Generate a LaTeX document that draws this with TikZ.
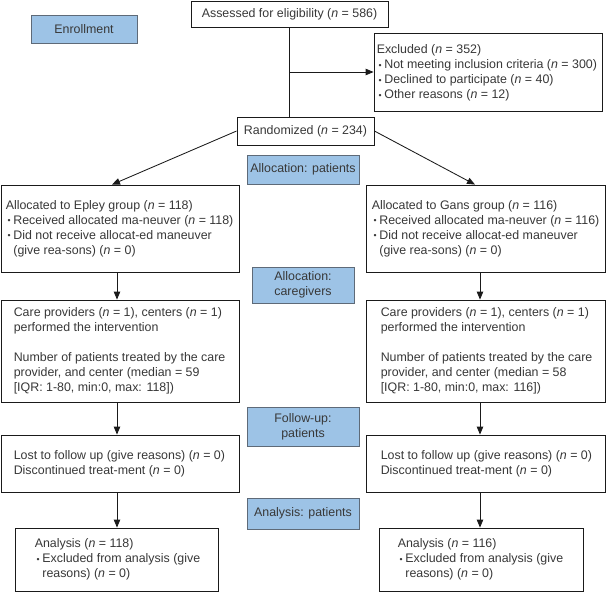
\documentclass[tikz,border=0pt]{standalone}
\usepackage{fontspec}
\setmainfont{Liberation Sans}
\usepackage{graphicx}
\usetikzlibrary{arrows.meta,calc}
\definecolor{stagefill}{HTML}{9DC3E6}
\definecolor{stageline}{HTML}{5E6A78}
\definecolor{txtgray}{HTML}{383838}
\definecolor{boxline}{HTML}{1A1A1A}
\newcommand{\nn}{\textit{n}}
\newcommand{\bl}{\hspace*{1.8pt}\makebox[5.8pt][l]{\raisebox{0.05ex}{\scalebox{0.7}{•}}}}
\newcommand{\ind}{\hspace*{7.6pt}}
\begin{document}
\begin{tikzpicture}[x=1pt,y=-1pt,
  font=\fontsize{12.4}{14.9}\selectfont,
  box/.style={draw=boxline, line width=0.85pt, inner sep=0pt, fill=white},
  stage/.style={draw=stageline, fill=stagefill, line width=0.9pt, inner sep=0pt, align=center, text=txtgray},
  txt/.style={anchor=west, align=left, inner sep=0pt, text=txtgray},
  ctxt/.style={align=center, inner sep=0pt, text=txtgray},
  ln/.style={draw=boxline, line width=0.85pt},
  arr/.style={draw=boxline, line width=0.85pt, -{Triangle[width=6.5pt,length=8pt]}}]
\useasboundingbox (0,0) rectangle (606,592);

% stage labels
\node[stage, minimum width=106pt, minimum height=28pt] (enroll) at (84,29) {Enrollment};
\node[stage, minimum width=112pt, minimum height=29pt] (allocP) at (303,169.5) {Allocation: patients};
\node[stage, minimum width=102pt, minimum height=36pt] (allocC) at (303,285) {Allocation:\\caregivers};
\node[stage, minimum width=112pt, minimum height=39pt] (follow) at (303,426.5) {Follow-up:\\patients};
\node[stage, minimum width=112pt, minimum height=31pt] (anaP) at (303,513.5) {Analysis: patients};

% top boxes
\node[box, minimum width=197pt, minimum height=26pt] (assess) at (289.5,14) {};
\node[ctxt] (assessT) at (assess.center) {Assessed for eligibility (\nn{} = 586)};
\node[box, minimum width=228pt, minimum height=78pt] (excl) at (488,72) {};
\node[txt] (exclT) at ([xshift=3pt,yshift=-1pt]excl.west) {Excluded (\nn{} = 352)\\
\bl Not meeting inclusion criteria (\nn{} = 300)\\
\bl Declined to participate (\nn{} = 40)\\
\bl Other reasons (\nn{} = 12)};
\node[box, minimum width=137pt, minimum height=28pt] (rand) at (305.5,131) {};
\node[ctxt] (randT) at (rand.center) {Randomized (\nn{} = 234)};

% left column
\node[box, minimum width=238pt, minimum height=87pt] (epley) at (120,228.5) {};
\node[txt] (epleyT) at ([xshift=5pt]epley.west) {Allocated to Epley group (\nn{} = 118)\\
\bl Received allocated ma-neuver (\nn{} = 118)\\
\bl Did not receive allocat-ed maneuver\\
\ind(give rea-sons) (\nn{} = 0)};
\node[box, minimum width=238pt, minimum height=102pt] (careL) at (120,351) {};
\node[txt] (careLT) at ([xshift=13pt]careL.west) {Care providers (\nn{} = 1), centers (\nn{} = 1)\\
performed the intervention\\[14.9pt]
Number of patients treated by the care\\
provider, and center (median = 59\\
{[IQR: 1-80, min:0, max: 118])}};
\node[box, minimum width=238pt, minimum height=57pt] (lostL) at (120,463.5) {};
\node[txt] (lostLT) at ([xshift=13pt]lostL.west) {Lost to follow up (give reasons) (\nn{} = 0)\\
Discontinued treat-ment (\nn{} = 0)};
\node[box, minimum width=203pt, minimum height=63pt] (anaL) at (116.5,559.5) {};
\node[txt] (anaLT) at ([xshift=20pt]anaL.west) {Analysis (\nn{} = 118)\\
\bl Excluded from analysis (give\\
\ind reasons) (\nn{} = 0)};

% right column
\node[box, minimum width=239pt, minimum height=87pt] (gans) at (485.5,228.5) {};
\node[txt] (gansT) at ([xshift=6pt]gans.west) {Allocated to Gans group (\nn{} = 116)\\
\bl Received allocated ma-neuver (\nn{} = 116)\\
\bl Did not receive allocat-ed maneuver\\
\ind(give rea-sons) (\nn{} = 0)};
\node[box, minimum width=239pt, minimum height=102pt] (careR) at (485.5,351) {};
\node[txt] (careRT) at ([xshift=15pt]careR.west) {Care providers (\nn{} = 1), centers (\nn{} = 1)\\
performed the intervention\\[14.9pt]
Number of patients treated by the care\\
provider, and center (median = 58\\
{[IQR: 1-80, min:0, max: 116])}};
\node[box, minimum width=239pt, minimum height=57pt] (lostR) at (485.5,463.5) {};
\node[txt] (lostRT) at ([xshift=15pt]lostR.west) {Lost to follow up (give reasons) (\nn{} = 0)\\
Discontinued treat-ment (\nn{} = 0)};
\node[box, minimum width=204pt, minimum height=63pt] (anaR) at (481,559.5) {};
\node[txt] (anaRT) at ([xshift=19pt]anaR.west) {Analysis (\nn{} = 116)\\
\bl Excluded from analysis (give\\
\ind reasons) (\nn{} = 0)};

% connectors
\draw[ln] (assess.south) -- (assess.south |- rand.north);
\draw[arr] (assess.south |- excl.west) -- (excl.west);
\draw[arr] (rand.west) -- ([xshift=-8pt]epley.north);
\draw[arr] (rand.east) -- ([xshift=-10.5pt]gans.north);
\draw[arr] ([xshift=-3pt]epley.south) -- ([xshift=-3pt]careL.north);
\draw[arr] ([xshift=-3pt]careL.south) -- ([xshift=-3pt]lostL.north);
\draw[arr] ([xshift=-3pt]lostL.south) -- ([xshift=-3pt]lostL.south |- anaL.north);
\draw[arr] ([xshift=-5.5pt]gans.south) -- ([xshift=-5.5pt]careR.north);
\draw[arr] ([xshift=-5.5pt]careR.south) -- ([xshift=-5.5pt]lostR.north);
\draw[arr] ([xshift=-5.5pt]lostR.south) -- ([xshift=-5.5pt]lostR.south |- anaR.north);
\end{tikzpicture}
\end{document}
